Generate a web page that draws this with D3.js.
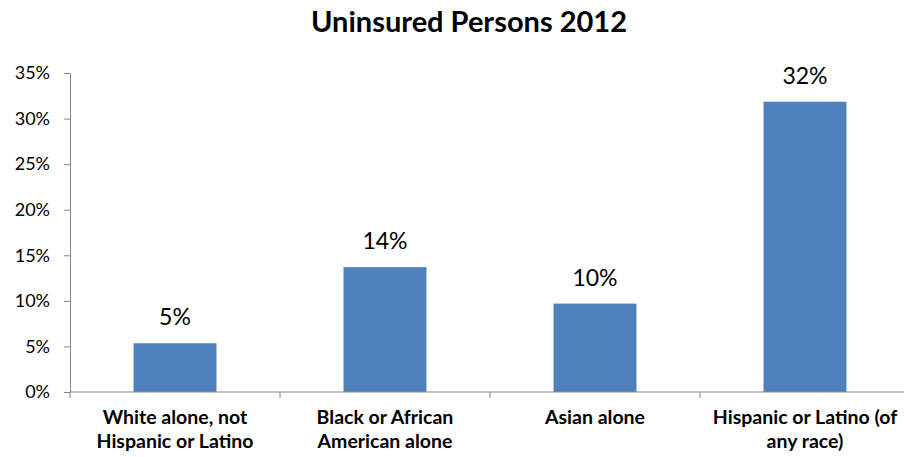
<!DOCTYPE html>
<html><head><meta charset="utf-8">
<script src="https://cdn.jsdelivr.net/npm/d3@7"></script>
<style>body{margin:0;background:#fff}svg{display:block}</style>
</head><body>
<script>
const categories = [["White alone, not","Hispanic or Latino"],["Black or African","American alone"],["Asian alone"],["Hispanic or Latino (of","any race)"]];
const values = [0.0535, 0.137, 0.097, 0.3185];
const valueLabels = ["5%","14%","10%","32%"];
const yTicks = [0,0.05,0.10,0.15,0.20,0.25,0.30,0.35];
const title = "Uninsured Persons 2012";

(function(){
const W=904,H=457;
const svg=d3.select("body").append("svg").attr("width",W).attr("height",H);
const font="Lato, 'Open Sans', sans-serif";
const pLeft=70,pRight=910,pTop=73,pBottom=392;
const x=d3.scaleBand().domain(d3.range(categories.length)).range([pLeft,pRight]).paddingInner(0.605).paddingOuter(0.3025);
const y=d3.scaleLinear().domain([0,0.35]).range([pBottom,pTop]);
const axisColor="#868686";

svg.append("text").attr("x",469).attr("y",32).attr("text-anchor","middle")
  .attr("font-family",font).attr("font-weight","bold").attr("font-size",29).attr("fill","#000").text(title);

// y axis
const ya=svg.append("g").attr("transform",`translate(${pLeft},0)`)
  .call(d3.axisLeft(y).tickValues(yTicks).tickFormat(d3.format(".0%")).tickSize(6).tickSizeOuter(0).tickPadding(14));
ya.select(".domain").attr("stroke",axisColor);
ya.selectAll(".tick line").attr("stroke",axisColor);
ya.selectAll(".tick text").attr("font-family",font).attr("font-size",18).attr("fill","#000");

// bars
svg.selectAll("rect.bar").data(values).join("rect").attr("class","bar")
  .attr("x",(d,i)=>x(i)).attr("width",x.bandwidth())
  .attr("y",d=>y(d)).attr("height",d=>y(0)-y(d)).attr("fill","#4F81BD");

// value labels
svg.selectAll("text.val").data(values).join("text").attr("class","val")
  .attr("x",(d,i)=>x(i)+x.bandwidth()/2).attr("y",d=>y(d)-18)
  .attr("text-anchor","middle").attr("font-family",font).attr("font-size",23).attr("fill","#000")
  .text((d,i)=>valueLabels[i]);

// x axis
const xb=d3.scaleLinear().domain([0,categories.length]).range([pLeft,pRight]);
const xg=svg.append("g");
xg.append("line").attr("x1",pLeft).attr("x2",pRight).attr("y1",pBottom).attr("y2",pBottom).attr("stroke",axisColor);
xg.selectAll("line.t").data(d3.range(categories.length+1)).join("line").attr("class","t")
  .attr("x1",d=>xb(d)).attr("x2",d=>xb(d)).attr("y1",pBottom).attr("y2",pBottom+6).attr("stroke",axisColor);
const cl=svg.selectAll("text.cat").data(categories).join("text").attr("class","cat")
  .attr("text-anchor","middle").attr("font-family",font).attr("font-weight","bold").attr("font-size",19.5).attr("fill","#000");
cl.each(function(d,i){
  const t=d3.select(this);
  d.forEach((s,j)=>t.append("tspan").attr("x",x(i)+x.bandwidth()/2).attr("y",424+j*24).text(s));
});
})();
</script>
</body></html>
